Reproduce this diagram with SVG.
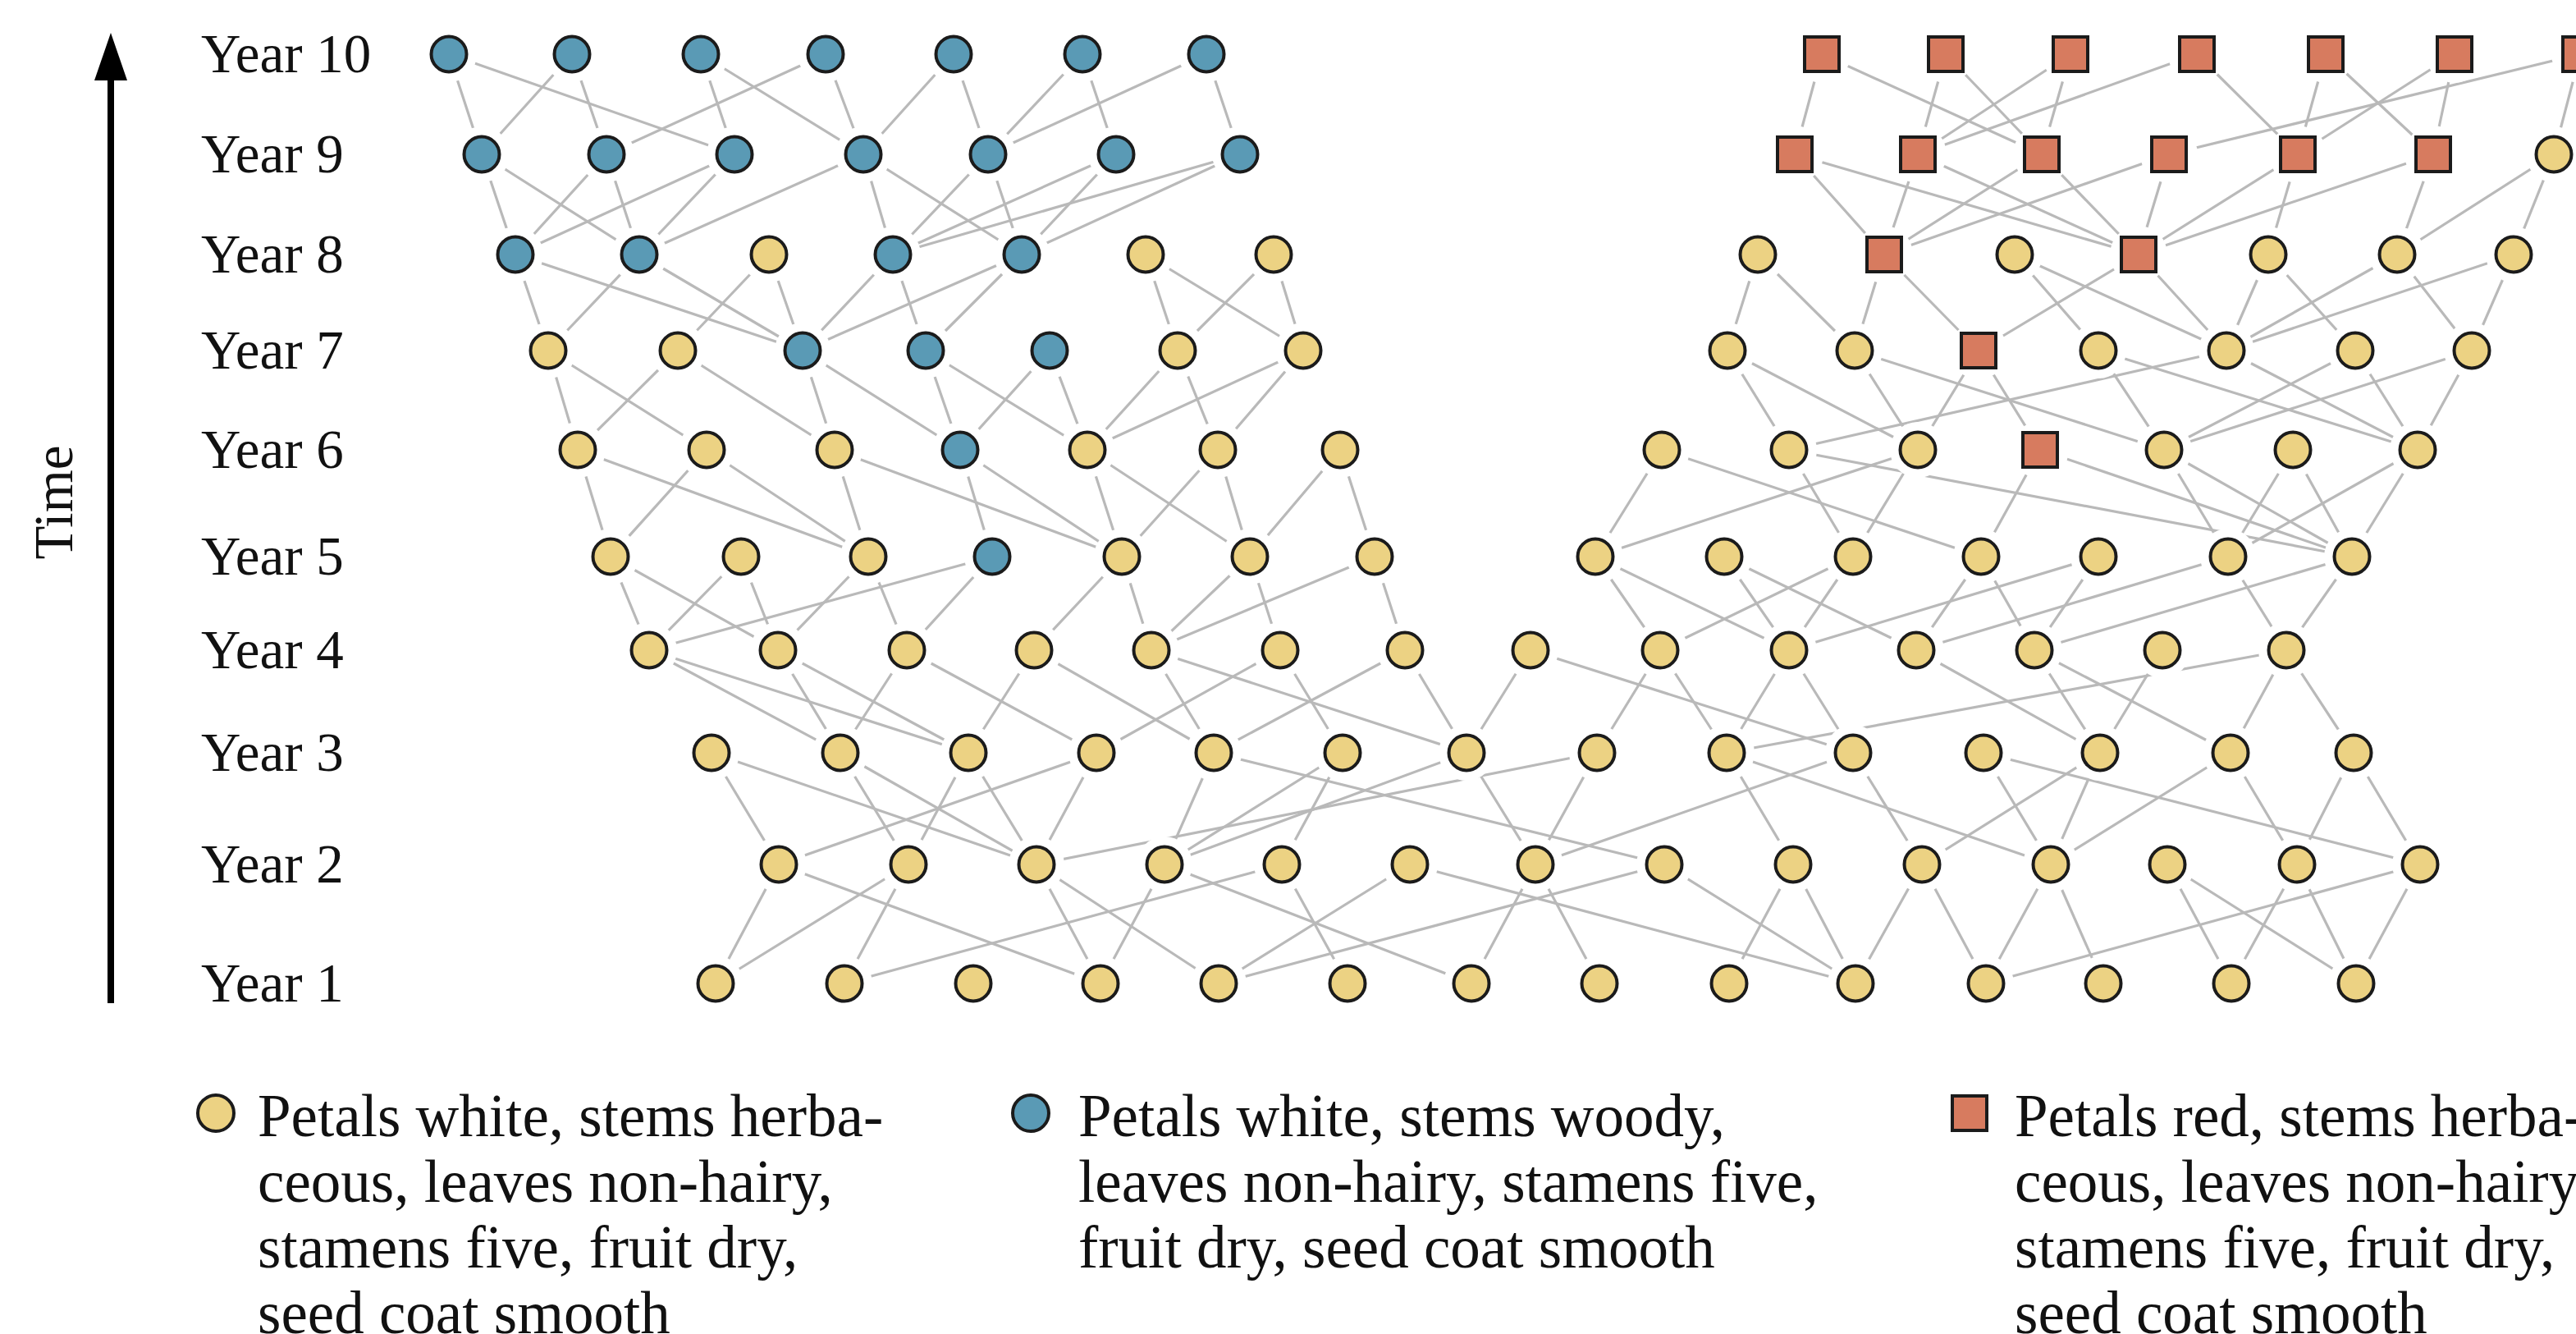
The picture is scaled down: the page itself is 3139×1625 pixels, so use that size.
<svg xmlns="http://www.w3.org/2000/svg" width="3139" height="1625" viewBox="0 0 3139 1625">
<style>
.ny{fill:#ecd283;stroke:#1b1b1b;stroke-width:4}
.nb{fill:#5a9ab5;stroke:#1b1b1b;stroke-width:4}
.nr{fill:#d77b5f;stroke:#1b1b1b;stroke-width:4}
.halo{fill:#fff}
.lbl{font-family:"Liberation Serif","Times New Roman",serif;font-size:67px;fill:#111}
.leg{font-family:"Liberation Serif","Times New Roman",serif;font-size:73px;fill:#111}
#connectors line{stroke:#b9b9b9;stroke-width:3.2;stroke-linecap:round}
</style>
<defs>
<g id="y"><circle class="halo" r="34"/><circle class="ny" r="21.5"/></g>
<g id="b"><circle class="halo" r="34"/><circle class="nb" r="21.5"/></g>
<g id="r"><circle class="halo" r="35"/><rect class="nr" x="-21" y="-21" width="42" height="42"/></g>
</defs>
<rect width="3139" height="1625" fill="#fff"/>

<g id="axis">
<line x1="135" y1="1222" x2="135" y2="90" stroke="#000" stroke-width="8"/>
<polygon points="135,40 115,98 155,98" fill="#000"/>
<text class="lbl" transform="translate(88,612) rotate(-90)" text-anchor="middle">Time</text>
</g>

<g id="year-labels">
<text class="lbl" x="245" y="88">Year 10</text>
<text class="lbl" x="245" y="210">Year 9</text>
<text class="lbl" x="245" y="332">Year 8</text>
<text class="lbl" x="245" y="449">Year 7</text>
<text class="lbl" x="245" y="570">Year 6</text>
<text class="lbl" x="245" y="700">Year 5</text>
<text class="lbl" x="245" y="814">Year 4</text>
<text class="lbl" x="245" y="939">Year 3</text>
<text class="lbl" x="245" y="1075">Year 2</text>
<text class="lbl" x="245" y="1220">Year 1</text>
</g>

<g id="connectors">
<line x1="547" y1="66" x2="587" y2="188"/>
<line x1="547" y1="66" x2="895" y2="188"/>
<line x1="697" y1="66" x2="587" y2="188"/>
<line x1="697" y1="66" x2="739" y2="188"/>
<line x1="854" y1="66" x2="895" y2="188"/>
<line x1="854" y1="66" x2="1052" y2="188"/>
<line x1="1006" y1="66" x2="739" y2="188"/>
<line x1="1006" y1="66" x2="1052" y2="188"/>
<line x1="1162" y1="66" x2="1052" y2="188"/>
<line x1="1162" y1="66" x2="1204" y2="188"/>
<line x1="1319" y1="66" x2="1204" y2="188"/>
<line x1="1319" y1="66" x2="1360" y2="188"/>
<line x1="1470" y1="66" x2="1204" y2="188"/>
<line x1="1470" y1="66" x2="1511" y2="188"/>
<line x1="2220" y1="66" x2="2187" y2="188"/>
<line x1="2220" y1="66" x2="2488" y2="188"/>
<line x1="2371" y1="66" x2="2337" y2="188"/>
<line x1="2371" y1="66" x2="2488" y2="188"/>
<line x1="2523" y1="66" x2="2337" y2="188"/>
<line x1="2523" y1="66" x2="2488" y2="188"/>
<line x1="2677" y1="66" x2="2337" y2="188"/>
<line x1="2677" y1="66" x2="2800" y2="188"/>
<line x1="2834" y1="66" x2="2800" y2="188"/>
<line x1="2834" y1="66" x2="2965" y2="188"/>
<line x1="2991" y1="66" x2="2800" y2="188"/>
<line x1="2991" y1="66" x2="2965" y2="188"/>
<line x1="3144" y1="66" x2="2643" y2="188"/>
<line x1="3144" y1="66" x2="3112" y2="188"/>

<line x1="587" y1="188" x2="628" y2="310"/>
<line x1="587" y1="188" x2="779" y2="310"/>
<line x1="739" y1="188" x2="628" y2="310"/>
<line x1="739" y1="188" x2="779" y2="310"/>
<line x1="895" y1="188" x2="628" y2="310"/>
<line x1="895" y1="188" x2="779" y2="310"/>
<line x1="1052" y1="188" x2="779" y2="310"/>
<line x1="1052" y1="188" x2="1088" y2="310"/>
<line x1="1052" y1="188" x2="1245" y2="310"/>
<line x1="1204" y1="188" x2="1088" y2="310"/>
<line x1="1204" y1="188" x2="1245" y2="310"/>
<line x1="1360" y1="188" x2="1088" y2="310"/>
<line x1="1360" y1="188" x2="1245" y2="310"/>
<line x1="1511" y1="188" x2="1088" y2="310"/>
<line x1="1511" y1="188" x2="1245" y2="310"/>
<line x1="2187" y1="188" x2="2296" y2="310"/>
<line x1="2187" y1="188" x2="2606" y2="310"/>
<line x1="2337" y1="188" x2="2296" y2="310"/>
<line x1="2337" y1="188" x2="2606" y2="310"/>
<line x1="2488" y1="188" x2="2296" y2="310"/>
<line x1="2488" y1="188" x2="2606" y2="310"/>
<line x1="2643" y1="188" x2="2296" y2="310"/>
<line x1="2643" y1="188" x2="2606" y2="310"/>
<line x1="2800" y1="188" x2="2606" y2="310"/>
<line x1="2800" y1="188" x2="2764" y2="310"/>
<line x1="2965" y1="188" x2="2606" y2="310"/>
<line x1="2965" y1="188" x2="2921" y2="310"/>
<line x1="3112" y1="188" x2="2921" y2="310"/>
<line x1="3112" y1="188" x2="3063" y2="310"/>

<line x1="628" y1="310" x2="668" y2="427"/>
<line x1="628" y1="310" x2="978" y2="427"/>
<line x1="779" y1="310" x2="668" y2="427"/>
<line x1="779" y1="310" x2="978" y2="427"/>
<line x1="937" y1="310" x2="826" y2="427"/>
<line x1="937" y1="310" x2="978" y2="427"/>
<line x1="1088" y1="310" x2="978" y2="427"/>
<line x1="1088" y1="310" x2="1128" y2="427"/>
<line x1="1245" y1="310" x2="978" y2="427"/>
<line x1="1245" y1="310" x2="1128" y2="427"/>
<line x1="1396" y1="310" x2="1435" y2="427"/>
<line x1="1396" y1="310" x2="1588" y2="427"/>
<line x1="1552" y1="310" x2="1435" y2="427"/>
<line x1="1552" y1="310" x2="1588" y2="427"/>
<line x1="2142" y1="310" x2="2105" y2="427"/>
<line x1="2142" y1="310" x2="2260" y2="427"/>
<line x1="2296" y1="310" x2="2260" y2="427"/>
<line x1="2296" y1="310" x2="2411" y2="427"/>
<line x1="2455" y1="310" x2="2557" y2="427"/>
<line x1="2455" y1="310" x2="2713" y2="427"/>
<line x1="2606" y1="310" x2="2411" y2="427"/>
<line x1="2606" y1="310" x2="2713" y2="427"/>
<line x1="2764" y1="310" x2="2713" y2="427"/>
<line x1="2764" y1="310" x2="2870" y2="427"/>
<line x1="2921" y1="310" x2="2713" y2="427"/>
<line x1="2921" y1="310" x2="3012" y2="427"/>
<line x1="3063" y1="310" x2="2713" y2="427"/>
<line x1="3063" y1="310" x2="3012" y2="427"/>

<line x1="668" y1="427" x2="704" y2="548"/>
<line x1="668" y1="427" x2="861" y2="548"/>
<line x1="826" y1="427" x2="704" y2="548"/>
<line x1="826" y1="427" x2="1017" y2="548"/>
<line x1="978" y1="427" x2="1017" y2="548"/>
<line x1="978" y1="427" x2="1170" y2="548"/>
<line x1="1128" y1="427" x2="1170" y2="548"/>
<line x1="1128" y1="427" x2="1325" y2="548"/>
<line x1="1279" y1="427" x2="1170" y2="548"/>
<line x1="1279" y1="427" x2="1325" y2="548"/>
<line x1="1435" y1="427" x2="1325" y2="548"/>
<line x1="1435" y1="427" x2="1484" y2="548"/>
<line x1="1588" y1="427" x2="1325" y2="548"/>
<line x1="1588" y1="427" x2="1484" y2="548"/>
<line x1="2105" y1="427" x2="2180" y2="548"/>
<line x1="2105" y1="427" x2="2337" y2="548"/>
<line x1="2260" y1="427" x2="2337" y2="548"/>
<line x1="2260" y1="427" x2="2637" y2="548"/>
<line x1="2411" y1="427" x2="2337" y2="548"/>
<line x1="2411" y1="427" x2="2486" y2="548"/>
<line x1="2557" y1="427" x2="2637" y2="548"/>
<line x1="2557" y1="427" x2="2946" y2="548"/>
<line x1="2713" y1="427" x2="2180" y2="548"/>
<line x1="2713" y1="427" x2="2946" y2="548"/>
<line x1="2870" y1="427" x2="2637" y2="548"/>
<line x1="2870" y1="427" x2="2946" y2="548"/>
<line x1="3012" y1="427" x2="2637" y2="548"/>
<line x1="3012" y1="427" x2="2946" y2="548"/>

<line x1="704" y1="548" x2="744" y2="678"/>
<line x1="704" y1="548" x2="1058" y2="678"/>
<line x1="861" y1="548" x2="744" y2="678"/>
<line x1="861" y1="548" x2="1058" y2="678"/>
<line x1="1017" y1="548" x2="1058" y2="678"/>
<line x1="1017" y1="548" x2="1367" y2="678"/>
<line x1="1170" y1="548" x2="1209" y2="678"/>
<line x1="1170" y1="548" x2="1367" y2="678"/>
<line x1="1325" y1="548" x2="1367" y2="678"/>
<line x1="1325" y1="548" x2="1523" y2="678"/>
<line x1="1484" y1="548" x2="1367" y2="678"/>
<line x1="1484" y1="548" x2="1523" y2="678"/>
<line x1="1633" y1="548" x2="1523" y2="678"/>
<line x1="1633" y1="548" x2="1675" y2="678"/>
<line x1="2025" y1="548" x2="1944" y2="678"/>
<line x1="2025" y1="548" x2="2414" y2="678"/>
<line x1="2180" y1="548" x2="2258" y2="678"/>
<line x1="2180" y1="548" x2="2866" y2="678"/>
<line x1="2337" y1="548" x2="1944" y2="678"/>
<line x1="2337" y1="548" x2="2258" y2="678"/>
<line x1="2486" y1="548" x2="2414" y2="678"/>
<line x1="2486" y1="548" x2="2866" y2="678"/>
<line x1="2637" y1="548" x2="2715" y2="678"/>
<line x1="2637" y1="548" x2="2866" y2="678"/>
<line x1="2794" y1="548" x2="2715" y2="678"/>
<line x1="2794" y1="548" x2="2866" y2="678"/>
<line x1="2946" y1="548" x2="2715" y2="678"/>
<line x1="2946" y1="548" x2="2866" y2="678"/>

<line x1="744" y1="678" x2="791" y2="792"/>
<line x1="744" y1="678" x2="948" y2="792"/>
<line x1="903" y1="678" x2="791" y2="792"/>
<line x1="903" y1="678" x2="948" y2="792"/>
<line x1="1058" y1="678" x2="948" y2="792"/>
<line x1="1058" y1="678" x2="1105" y2="792"/>
<line x1="1209" y1="678" x2="791" y2="792"/>
<line x1="1209" y1="678" x2="1105" y2="792"/>
<line x1="1367" y1="678" x2="1260" y2="792"/>
<line x1="1367" y1="678" x2="1403" y2="792"/>
<line x1="1523" y1="678" x2="1403" y2="792"/>
<line x1="1523" y1="678" x2="1560" y2="792"/>
<line x1="1675" y1="678" x2="1403" y2="792"/>
<line x1="1675" y1="678" x2="1712" y2="792"/>
<line x1="1944" y1="678" x2="2023" y2="792"/>
<line x1="1944" y1="678" x2="2180" y2="792"/>
<line x1="2101" y1="678" x2="2180" y2="792"/>
<line x1="2101" y1="678" x2="2335" y2="792"/>
<line x1="2258" y1="678" x2="2023" y2="792"/>
<line x1="2258" y1="678" x2="2180" y2="792"/>
<line x1="2414" y1="678" x2="2335" y2="792"/>
<line x1="2414" y1="678" x2="2479" y2="792"/>
<line x1="2557" y1="678" x2="2180" y2="792"/>
<line x1="2557" y1="678" x2="2479" y2="792"/>
<line x1="2715" y1="678" x2="2335" y2="792"/>
<line x1="2715" y1="678" x2="2786" y2="792"/>
<line x1="2866" y1="678" x2="2479" y2="792"/>
<line x1="2866" y1="678" x2="2786" y2="792"/>

<line x1="791" y1="792" x2="1024" y2="917"/>
<line x1="791" y1="792" x2="1180" y2="917"/>
<line x1="948" y1="792" x2="1024" y2="917"/>
<line x1="948" y1="792" x2="1180" y2="917"/>
<line x1="1105" y1="792" x2="1024" y2="917"/>
<line x1="1105" y1="792" x2="1336" y2="917"/>
<line x1="1260" y1="792" x2="1180" y2="917"/>
<line x1="1260" y1="792" x2="1479" y2="917"/>
<line x1="1403" y1="792" x2="1479" y2="917"/>
<line x1="1403" y1="792" x2="1787" y2="917"/>
<line x1="1560" y1="792" x2="1336" y2="917"/>
<line x1="1560" y1="792" x2="1636" y2="917"/>
<line x1="1712" y1="792" x2="1479" y2="917"/>
<line x1="1712" y1="792" x2="1787" y2="917"/>
<line x1="1865" y1="792" x2="1787" y2="917"/>
<line x1="1865" y1="792" x2="2258" y2="917"/>
<line x1="2023" y1="792" x2="1946" y2="917"/>
<line x1="2023" y1="792" x2="2104" y2="917"/>
<line x1="2180" y1="792" x2="2104" y2="917"/>
<line x1="2180" y1="792" x2="2258" y2="917"/>
<line x1="2335" y1="792" x2="2559" y2="917"/>
<line x1="2479" y1="792" x2="2559" y2="917"/>
<line x1="2479" y1="792" x2="2718" y2="917"/>
<line x1="2635" y1="792" x2="2559" y2="917"/>
<line x1="2786" y1="792" x2="2104" y2="917"/>
<line x1="2786" y1="792" x2="2718" y2="917"/>
<line x1="2786" y1="792" x2="2868" y2="917"/>

<line x1="867" y1="917" x2="949" y2="1053"/>
<line x1="867" y1="917" x2="1263" y2="1053"/>
<line x1="1024" y1="917" x2="1107" y2="1053"/>
<line x1="1024" y1="917" x2="1263" y2="1053"/>
<line x1="1180" y1="917" x2="1107" y2="1053"/>
<line x1="1180" y1="917" x2="1263" y2="1053"/>
<line x1="1336" y1="917" x2="949" y2="1053"/>
<line x1="1336" y1="917" x2="1263" y2="1053"/>
<line x1="1479" y1="917" x2="1419" y2="1053"/>
<line x1="1479" y1="917" x2="2028" y2="1053"/>
<line x1="1636" y1="917" x2="1419" y2="1053"/>
<line x1="1636" y1="917" x2="1562" y2="1053"/>
<line x1="1787" y1="917" x2="1419" y2="1053"/>
<line x1="1787" y1="917" x2="1871" y2="1053"/>
<line x1="1946" y1="917" x2="1263" y2="1053"/>
<line x1="1946" y1="917" x2="1871" y2="1053"/>
<line x1="2104" y1="917" x2="2185" y2="1053"/>
<line x1="2104" y1="917" x2="2499" y2="1053"/>
<line x1="2258" y1="917" x2="1871" y2="1053"/>
<line x1="2258" y1="917" x2="2342" y2="1053"/>
<line x1="2417" y1="917" x2="2499" y2="1053"/>
<line x1="2417" y1="917" x2="2949" y2="1053"/>
<line x1="2559" y1="917" x2="2342" y2="1053"/>
<line x1="2559" y1="917" x2="2499" y2="1053"/>
<line x1="2718" y1="917" x2="2499" y2="1053"/>
<line x1="2718" y1="917" x2="2799" y2="1053"/>
<line x1="2868" y1="917" x2="2799" y2="1053"/>
<line x1="2868" y1="917" x2="2949" y2="1053"/>

<line x1="949" y1="1053" x2="872" y2="1198"/>
<line x1="949" y1="1053" x2="1341" y2="1198"/>
<line x1="1107" y1="1053" x2="872" y2="1198"/>
<line x1="1107" y1="1053" x2="1029" y2="1198"/>
<line x1="1263" y1="1053" x2="1341" y2="1198"/>
<line x1="1263" y1="1053" x2="1485" y2="1198"/>
<line x1="1419" y1="1053" x2="1341" y2="1198"/>
<line x1="1419" y1="1053" x2="1793" y2="1198"/>
<line x1="1562" y1="1053" x2="1029" y2="1198"/>
<line x1="1562" y1="1053" x2="1642" y2="1198"/>
<line x1="1718" y1="1053" x2="1485" y2="1198"/>
<line x1="1718" y1="1053" x2="2261" y2="1198"/>
<line x1="1871" y1="1053" x2="1793" y2="1198"/>
<line x1="1871" y1="1053" x2="1949" y2="1198"/>
<line x1="2028" y1="1053" x2="1485" y2="1198"/>
<line x1="2028" y1="1053" x2="2261" y2="1198"/>
<line x1="2185" y1="1053" x2="2107" y2="1198"/>
<line x1="2185" y1="1053" x2="2261" y2="1198"/>
<line x1="2342" y1="1053" x2="2261" y2="1198"/>
<line x1="2342" y1="1053" x2="2420" y2="1198"/>
<line x1="2499" y1="1053" x2="2420" y2="1198"/>
<line x1="2499" y1="1053" x2="2563" y2="1198"/>
<line x1="2641" y1="1053" x2="2719" y2="1198"/>
<line x1="2641" y1="1053" x2="2871" y2="1198"/>
<line x1="2799" y1="1053" x2="2719" y2="1198"/>
<line x1="2799" y1="1053" x2="2871" y2="1198"/>
<line x1="2949" y1="1053" x2="2420" y2="1198"/>
<line x1="2949" y1="1053" x2="2871" y2="1198"/>
</g>

<g id="nodes">
<g id="y10-1" transform="translate(547,66)"><use href="#b"/></g>
<g id="y10-2" transform="translate(697,66)"><use href="#b"/></g>
<g id="y10-3" transform="translate(854,66)"><use href="#b"/></g>
<g id="y10-4" transform="translate(1006,66)"><use href="#b"/></g>
<g id="y10-5" transform="translate(1162,66)"><use href="#b"/></g>
<g id="y10-6" transform="translate(1319,66)"><use href="#b"/></g>
<g id="y10-7" transform="translate(1470,66)"><use href="#b"/></g>
<g id="y10-8" transform="translate(2220,66)"><use href="#r"/></g>
<g id="y10-9" transform="translate(2371,66)"><use href="#r"/></g>
<g id="y10-10" transform="translate(2523,66)"><use href="#r"/></g>
<g id="y10-11" transform="translate(2677,66)"><use href="#r"/></g>
<g id="y10-12" transform="translate(2834,66)"><use href="#r"/></g>
<g id="y10-13" transform="translate(2991,66)"><use href="#r"/></g>
<g id="y10-14" transform="translate(3144,66)"><use href="#r"/></g>

<g id="y9-1" transform="translate(587,188)"><use href="#b"/></g>
<g id="y9-2" transform="translate(739,188)"><use href="#b"/></g>
<g id="y9-3" transform="translate(895,188)"><use href="#b"/></g>
<g id="y9-4" transform="translate(1052,188)"><use href="#b"/></g>
<g id="y9-5" transform="translate(1204,188)"><use href="#b"/></g>
<g id="y9-6" transform="translate(1360,188)"><use href="#b"/></g>
<g id="y9-7" transform="translate(1511,188)"><use href="#b"/></g>
<g id="y9-8" transform="translate(2187,188)"><use href="#r"/></g>
<g id="y9-9" transform="translate(2337,188)"><use href="#r"/></g>
<g id="y9-10" transform="translate(2488,188)"><use href="#r"/></g>
<g id="y9-11" transform="translate(2643,188)"><use href="#r"/></g>
<g id="y9-12" transform="translate(2800,188)"><use href="#r"/></g>
<g id="y9-13" transform="translate(2965,188)"><use href="#r"/></g>
<g id="y9-14" transform="translate(3112,188)"><use href="#y"/></g>

<g id="y8-1" transform="translate(628,310)"><use href="#b"/></g>
<g id="y8-2" transform="translate(779,310)"><use href="#b"/></g>
<g id="y8-3" transform="translate(937,310)"><use href="#y"/></g>
<g id="y8-4" transform="translate(1088,310)"><use href="#b"/></g>
<g id="y8-5" transform="translate(1245,310)"><use href="#b"/></g>
<g id="y8-6" transform="translate(1396,310)"><use href="#y"/></g>
<g id="y8-7" transform="translate(1552,310)"><use href="#y"/></g>
<g id="y8-8" transform="translate(2142,310)"><use href="#y"/></g>
<g id="y8-9" transform="translate(2296,310)"><use href="#r"/></g>
<g id="y8-10" transform="translate(2455,310)"><use href="#y"/></g>
<g id="y8-11" transform="translate(2606,310)"><use href="#r"/></g>
<g id="y8-12" transform="translate(2764,310)"><use href="#y"/></g>
<g id="y8-13" transform="translate(2921,310)"><use href="#y"/></g>
<g id="y8-14" transform="translate(3063,310)"><use href="#y"/></g>

<g id="y7-1" transform="translate(668,427)"><use href="#y"/></g>
<g id="y7-2" transform="translate(826,427)"><use href="#y"/></g>
<g id="y7-3" transform="translate(978,427)"><use href="#b"/></g>
<g id="y7-4" transform="translate(1128,427)"><use href="#b"/></g>
<g id="y7-5" transform="translate(1279,427)"><use href="#b"/></g>
<g id="y7-6" transform="translate(1435,427)"><use href="#y"/></g>
<g id="y7-7" transform="translate(1588,427)"><use href="#y"/></g>
<g id="y7-8" transform="translate(2105,427)"><use href="#y"/></g>
<g id="y7-9" transform="translate(2260,427)"><use href="#y"/></g>
<g id="y7-10" transform="translate(2411,427)"><use href="#r"/></g>
<g id="y7-11" transform="translate(2557,427)"><use href="#y"/></g>
<g id="y7-12" transform="translate(2713,427)"><use href="#y"/></g>
<g id="y7-13" transform="translate(2870,427)"><use href="#y"/></g>
<g id="y7-14" transform="translate(3012,427)"><use href="#y"/></g>

<g id="y6-1" transform="translate(704,548)"><use href="#y"/></g>
<g id="y6-2" transform="translate(861,548)"><use href="#y"/></g>
<g id="y6-3" transform="translate(1017,548)"><use href="#y"/></g>
<g id="y6-4" transform="translate(1170,548)"><use href="#b"/></g>
<g id="y6-5" transform="translate(1325,548)"><use href="#y"/></g>
<g id="y6-6" transform="translate(1484,548)"><use href="#y"/></g>
<g id="y6-7" transform="translate(1633,548)"><use href="#y"/></g>
<g id="y6-8" transform="translate(2025,548)"><use href="#y"/></g>
<g id="y6-9" transform="translate(2180,548)"><use href="#y"/></g>
<g id="y6-10" transform="translate(2337,548)"><use href="#y"/></g>
<g id="y6-11" transform="translate(2486,548)"><use href="#r"/></g>
<g id="y6-12" transform="translate(2637,548)"><use href="#y"/></g>
<g id="y6-13" transform="translate(2794,548)"><use href="#y"/></g>
<g id="y6-14" transform="translate(2946,548)"><use href="#y"/></g>

<g id="y5-1" transform="translate(744,678)"><use href="#y"/></g>
<g id="y5-2" transform="translate(903,678)"><use href="#y"/></g>
<g id="y5-3" transform="translate(1058,678)"><use href="#y"/></g>
<g id="y5-4" transform="translate(1209,678)"><use href="#b"/></g>
<g id="y5-5" transform="translate(1367,678)"><use href="#y"/></g>
<g id="y5-6" transform="translate(1523,678)"><use href="#y"/></g>
<g id="y5-7" transform="translate(1675,678)"><use href="#y"/></g>
<g id="y5-8" transform="translate(1944,678)"><use href="#y"/></g>
<g id="y5-9" transform="translate(2101,678)"><use href="#y"/></g>
<g id="y5-10" transform="translate(2258,678)"><use href="#y"/></g>
<g id="y5-11" transform="translate(2414,678)"><use href="#y"/></g>
<g id="y5-12" transform="translate(2557,678)"><use href="#y"/></g>
<g id="y5-13" transform="translate(2715,678)"><use href="#y"/></g>
<g id="y5-14" transform="translate(2866,678)"><use href="#y"/></g>

<g id="y4-1" transform="translate(791,792)"><use href="#y"/></g>
<g id="y4-2" transform="translate(948,792)"><use href="#y"/></g>
<g id="y4-3" transform="translate(1105,792)"><use href="#y"/></g>
<g id="y4-4" transform="translate(1260,792)"><use href="#y"/></g>
<g id="y4-5" transform="translate(1403,792)"><use href="#y"/></g>
<g id="y4-6" transform="translate(1560,792)"><use href="#y"/></g>
<g id="y4-7" transform="translate(1712,792)"><use href="#y"/></g>
<g id="y4-8" transform="translate(1865,792)"><use href="#y"/></g>
<g id="y4-9" transform="translate(2023,792)"><use href="#y"/></g>
<g id="y4-10" transform="translate(2180,792)"><use href="#y"/></g>
<g id="y4-11" transform="translate(2335,792)"><use href="#y"/></g>
<g id="y4-12" transform="translate(2479,792)"><use href="#y"/></g>
<g id="y4-13" transform="translate(2635,792)"><use href="#y"/></g>
<g id="y4-14" transform="translate(2786,792)"><use href="#y"/></g>

<g id="y3-1" transform="translate(867,917)"><use href="#y"/></g>
<g id="y3-2" transform="translate(1024,917)"><use href="#y"/></g>
<g id="y3-3" transform="translate(1180,917)"><use href="#y"/></g>
<g id="y3-4" transform="translate(1336,917)"><use href="#y"/></g>
<g id="y3-5" transform="translate(1479,917)"><use href="#y"/></g>
<g id="y3-6" transform="translate(1636,917)"><use href="#y"/></g>
<g id="y3-7" transform="translate(1787,917)"><use href="#y"/></g>
<g id="y3-8" transform="translate(1946,917)"><use href="#y"/></g>
<g id="y3-9" transform="translate(2104,917)"><use href="#y"/></g>
<g id="y3-10" transform="translate(2258,917)"><use href="#y"/></g>
<g id="y3-11" transform="translate(2417,917)"><use href="#y"/></g>
<g id="y3-12" transform="translate(2559,917)"><use href="#y"/></g>
<g id="y3-13" transform="translate(2718,917)"><use href="#y"/></g>
<g id="y3-14" transform="translate(2868,917)"><use href="#y"/></g>

<g id="y2-1" transform="translate(949,1053)"><use href="#y"/></g>
<g id="y2-2" transform="translate(1107,1053)"><use href="#y"/></g>
<g id="y2-3" transform="translate(1263,1053)"><use href="#y"/></g>
<g id="y2-4" transform="translate(1419,1053)"><use href="#y"/></g>
<g id="y2-5" transform="translate(1562,1053)"><use href="#y"/></g>
<g id="y2-6" transform="translate(1718,1053)"><use href="#y"/></g>
<g id="y2-7" transform="translate(1871,1053)"><use href="#y"/></g>
<g id="y2-8" transform="translate(2028,1053)"><use href="#y"/></g>
<g id="y2-9" transform="translate(2185,1053)"><use href="#y"/></g>
<g id="y2-10" transform="translate(2342,1053)"><use href="#y"/></g>
<g id="y2-11" transform="translate(2499,1053)"><use href="#y"/></g>
<g id="y2-12" transform="translate(2641,1053)"><use href="#y"/></g>
<g id="y2-13" transform="translate(2799,1053)"><use href="#y"/></g>
<g id="y2-14" transform="translate(2949,1053)"><use href="#y"/></g>

<g id="y1-1" transform="translate(872,1198)"><use href="#y"/></g>
<g id="y1-2" transform="translate(1029,1198)"><use href="#y"/></g>
<g id="y1-3" transform="translate(1186,1198)"><use href="#y"/></g>
<g id="y1-4" transform="translate(1341,1198)"><use href="#y"/></g>
<g id="y1-5" transform="translate(1485,1198)"><use href="#y"/></g>
<g id="y1-6" transform="translate(1642,1198)"><use href="#y"/></g>
<g id="y1-7" transform="translate(1793,1198)"><use href="#y"/></g>
<g id="y1-8" transform="translate(1949,1198)"><use href="#y"/></g>
<g id="y1-9" transform="translate(2107,1198)"><use href="#y"/></g>
<g id="y1-10" transform="translate(2261,1198)"><use href="#y"/></g>
<g id="y1-11" transform="translate(2420,1198)"><use href="#y"/></g>
<g id="y1-12" transform="translate(2563,1198)"><use href="#y"/></g>
<g id="y1-13" transform="translate(2719,1198)"><use href="#y"/></g>
<g id="y1-14" transform="translate(2871,1198)"><use href="#y"/></g>
</g>

<g id="legend">
<g id="legend-yellow">
<circle class="ny" cx="263" cy="1356" r="22"/>
<text class="leg" x="314"><tspan x="314" y="1384">Petals white, stems herba-</tspan><tspan x="314" y="1464">ceous, leaves non-hairy,</tspan><tspan x="314" y="1544">stamens five, fruit dry,</tspan><tspan x="314" y="1624">seed coat smooth</tspan></text>
</g>
<g id="legend-blue">
<circle class="nb" cx="1256" cy="1356" r="22"/>
<text class="leg" x="1314"><tspan x="1314" y="1384">Petals white, stems woody,</tspan><tspan x="1314" y="1464">leaves non-hairy, stamens five,</tspan><tspan x="1314" y="1544">fruit dry, seed coat smooth</tspan></text>
</g>
<g id="legend-red">
<rect class="nr" x="2379" y="1335" width="42" height="42"/>
<text class="leg" x="2455"><tspan x="2455" y="1384">Petals red, stems herba-</tspan><tspan x="2455" y="1464">ceous, leaves non-hairy,</tspan><tspan x="2455" y="1544">stamens five, fruit dry,</tspan><tspan x="2455" y="1624">seed coat smooth</tspan></text>
</g>
</g>
</svg>
